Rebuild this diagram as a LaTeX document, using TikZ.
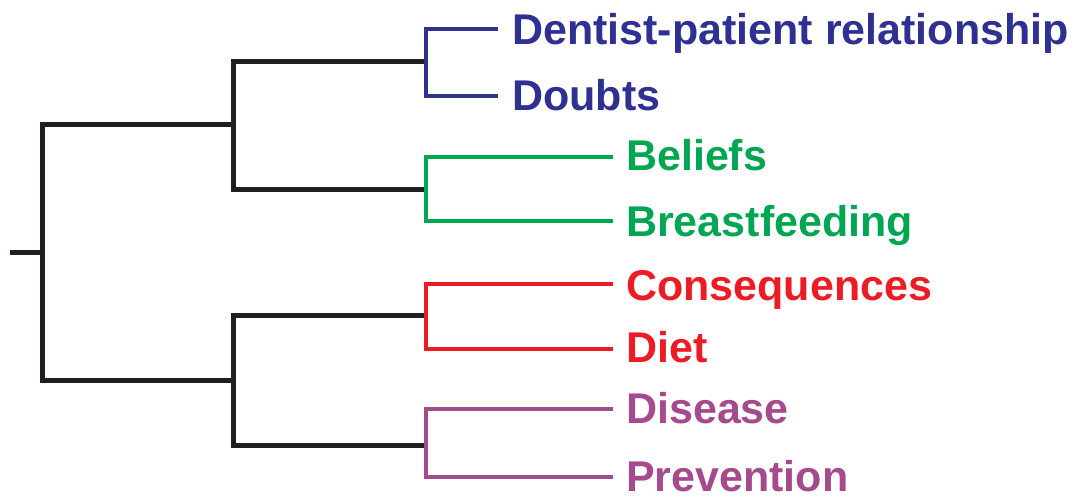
\documentclass[tikz,border=0pt]{standalone}
\usepackage{fontspec}
\setmainfont{Liberation Sans}
\definecolor{cblack}{HTML}{231F20}
\definecolor{cblue}{HTML}{2E3192}
\definecolor{cgreen}{HTML}{00A651}
\definecolor{cred}{HTML}{ED1C24}
\definecolor{cpurple}{HTML}{A54A8C}
\begin{document}
\begin{tikzpicture}[x=1pt,y=-1pt,line join=miter,
  branch/.style={line width=5pt,cblack},
  cbranch/.style={line width=4.8pt},
  leaf/.style={font=\fontsize{43}{50}\selectfont\bfseries,inner sep=0pt,anchor=base west}]
\useasboundingbox (0,0) rectangle (1088,502);
% internal nodes
\coordinate (root) at (10,253);
\coordinate (n0) at (42,253);
\coordinate (A) at (233,125);
\coordinate (B) at (233,381);
\coordinate (A1) at (426,62);
\coordinate (A2) at (426,190);
\coordinate (B1) at (426,316);
\coordinate (B2) at (426,446);
% leaf line ends
\coordinate (L1) at (498,29);
\coordinate (L2) at (498,96);
\coordinate (L3) at (613,157);
\coordinate (L4) at (613,221);
\coordinate (L5) at (613,284);
\coordinate (L6) at (613,349);
\coordinate (L7) at (613,409);
\coordinate (L8) at (613,477);
% labels
\node[leaf,text=cblue] (t1) at (512,45) {Dentist-patient relationship};
\node[leaf,text=cblue] (t2) at (512,111) {Doubts};
\node[leaf,text=cgreen] (t3) at (626,171) {Beliefs};
\node[leaf,text=cgreen] (t4) at (626,237) {Breastfeeding};
\node[leaf,text=cred] (t5) at (626,301) {Consequences};
\node[leaf,text=cred] (t6) at (626,363) {Diet};
\node[leaf,text=cpurple] (t7) at (626,424) {Disease};
\node[leaf,text=cpurple] (t8) at (626,492) {Prevention};
% black tree
\draw[branch] (root) -- (n0);
\draw[branch] (A) -- (A -| n0) -- (B -| n0) -- (B);
\draw[branch] (A1) -- (A1 -| A) -- (A2 -| A) -- (A2);
\draw[branch] (B1) -- (B1 -| B) -- (B2 -| B) -- (B2);
% coloured clusters
\draw[cbranch,cblue] (L1) -- (L1 -| A1) -- (L2 -| A1) -- (L2);
\draw[cbranch,cgreen] (L3) -- (L3 -| A2) -- (L4 -| A2) -- (L4);
\draw[cbranch,cred] (L5) -- (L5 -| B1) -- (L6 -| B1) -- (L6);
\draw[cbranch,cpurple] (L7) -- (L7 -| B2) -- (L8 -| B2) -- (L8);
\end{tikzpicture}
\end{document}
